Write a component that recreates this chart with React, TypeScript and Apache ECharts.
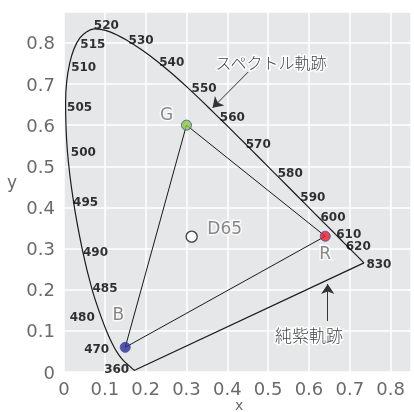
import React, { useEffect, useRef } from 'react';
import * as echarts from 'echarts';

// CIE 1931 spectral locus (wavelength nm -> chromaticity x, y)
const wavelengths = [360, 380, 400, 420, 430, 440, 445, 450, 455, 460, 465, 470, 475, 480, 485, 490, 495, 500, 505, 510, 515, 520, 525, 530, 535, 540, 545, 550, 555, 560, 565, 570, 575, 580, 585, 590, 595, 600, 605, 610, 615, 620, 625, 630, 640, 650, 660, 680, 700, 830];
const locusX = [0.1756, 0.1741, 0.1733, 0.1714, 0.1689, 0.1644, 0.1611, 0.1566, 0.1510, 0.1440, 0.1355, 0.1241, 0.1096, 0.0913, 0.0687, 0.0454, 0.0235, 0.0082, 0.0039, 0.0139, 0.0389, 0.0743, 0.1142, 0.1547, 0.1929, 0.2296, 0.2658, 0.3016, 0.3373, 0.3731, 0.4087, 0.4441, 0.4788, 0.5125, 0.5448, 0.5752, 0.6029, 0.6270, 0.6482, 0.6658, 0.6801, 0.6915, 0.7006, 0.7079, 0.7190, 0.7260, 0.7300, 0.7334, 0.7347, 0.7347];
const locusY = [0.0053, 0.0050, 0.0048, 0.0051, 0.0069, 0.0109, 0.0138, 0.0177, 0.0227, 0.0297, 0.0399, 0.0578, 0.0868, 0.1327, 0.2007, 0.2950, 0.4127, 0.5384, 0.6548, 0.7502, 0.8120, 0.8338, 0.8262, 0.8059, 0.7816, 0.7543, 0.7243, 0.6923, 0.6589, 0.6245, 0.5896, 0.5547, 0.5202, 0.4866, 0.4544, 0.4242, 0.3965, 0.3725, 0.3514, 0.3340, 0.3197, 0.3083, 0.2993, 0.2920, 0.2809, 0.2740, 0.2700, 0.2666, 0.2653, 0.2653];

// wavelengths that carry a label
const labeledWavelengths = [360, 470, 480, 485, 490, 495, 500, 505, 510, 515, 520, 530, 540, 550, 560, 570, 580, 590, 600, 610, 620, 830];

// sRGB primaries and white point
const primaryNames = ['R', 'G', 'B'];
const primaryX = [0.64, 0.30, 0.15];
const primaryY = [0.33, 0.60, 0.06];
const primaryColors = ['#ec1c2a', '#8cc63f', '#2e3192'];
const whiteName = 'D65';
const whiteX = 0.3127;
const whiteY = 0.3290;

// axis ticks
const xTicks = [0, 0.1, 0.2, 0.3, 0.4, 0.5, 0.6, 0.7, 0.8];
const yTicks = [0, 0.1, 0.2, 0.3, 0.4, 0.5, 0.6, 0.7, 0.8];

// annotation texts
const spectralLabel = 'スペクトル軌跡';
const purpleLabel = '純紫軌跡';

// layout / styling (not data)
const labelOffsets: Record<number, [number, number]> = {
  360: [-19, -1], 470: [-18, 1], 480: [-19, 0], 485: [13, -1], 490: [13, 1],
  495: [12, 0], 500: [16, 2], 505: [14, 4], 510: [14, 4], 515: [13, 6],
  520: [12, -4], 530: [14, 0], 540: [14, 0], 550: [17, 1], 560: [16, 2],
  570: [13, 0], 580: [17, 1], 590: [14, 0], 600: [13, -2], 610: [13, -1],
  620: [12, 1], 830: [15, 1],
};
const primaryLabelOffsets: [number, number][] = [[0, 17], [-20, -11], [-7, -33]];
const thinFont = 'DejaVu Sans';

function isTick(v: number, ticks: number[]) {
  return ticks.some((t) => Math.abs(t - v) < 1e-6);
}

export default function App() {
  const ref = useRef<HTMLDivElement>(null);

  useEffect(() => {
    if (!ref.current) return;
    const chart = echarts.init(ref.current, undefined, { renderer: 'svg' });

    const locusData = wavelengths.map((_, i) => [locusX[i], locusY[i]]);
    const first = 0;
    const last = wavelengths.length - 1;
    const purpleData = [
      [locusX[last], locusY[last]],
      [locusX[first], locusY[first]],
    ];
    const triangleData = [0, 1, 2, 0].map((i) => [primaryX[i], primaryY[i]]);

    const wlLabelData = labeledWavelengths.map((w) => {
      const i = wavelengths.indexOf(w);
      return {
        name: String(w),
        value: [locusX[i], locusY[i]],
        label: { offset: labelOffsets[w] },
      };
    });

    const primaryData = primaryNames.map((n, i) => ({
      name: n,
      value: [primaryX[i], primaryY[i]],
      itemStyle: { color: primaryColors[i] },
      label: { offset: primaryLabelOffsets[i] },
    }));

    const grayLabel = {
      fontFamily: thinFont,
      fontWeight: 'normal' as any,
      color: '#6a6a6a',
      textBorderColor: '#fff',
      textBorderWidth: 3,
    };

    const axisLabelStyle = {
      fontFamily: thinFont,
      fontWeight: 'normal',
      fontSize: 18,
      color: '#6a6a6a',
    };

    const option: any = {
      animation: false,
      grid: {
        left: 64,
        top: 12,
        width: 350,
        height: 360,
        show: true,
        backgroundColor: '#e6e7e9',
        borderWidth: 0,
      },
      xAxis: {
        type: 'value',
        min: 0,
        max: 0.85,
        interval: 0.1,
        axisLine: { show: false },
        axisTick: { show: false },
        splitLine: { show: true, lineStyle: { color: '#ffffff', width: 1.5 } },
        axisLabel: {
          margin: 7,
          ...axisLabelStyle,
          formatter: (v: number) => (isTick(v, xTicks) ? String(+v.toFixed(1)) : ''),
        },
      },
      yAxis: {
        type: 'value',
        min: 0,
        max: 0.875,
        interval: 0.1,
        axisLine: { show: false },
        axisTick: { show: false },
        splitLine: { show: true, lineStyle: { color: '#ffffff', width: 1.5 } },
        axisLabel: {
          margin: 9,
          ...axisLabelStyle,
          formatter: (v: number) => (isTick(v, yTicks) ? String(+v.toFixed(1)) : ''),
        },
      },
      series: [
        {
          type: 'line',
          data: locusData,
          smooth: 0.3,
          symbol: 'none',
          lineStyle: { color: '#1a1a1a', width: 1.2 },
          silent: true,
          z: 3,
        },
        {
          type: 'line',
          data: purpleData,
          symbol: 'none',
          lineStyle: { color: '#1a1a1a', width: 1.2 },
          silent: true,
          z: 3,
        },
        {
          type: 'line',
          data: triangleData,
          symbol: 'none',
          lineStyle: { color: '#1a1a1a', width: 1 },
          silent: true,
          z: 3,
        },
        {
          type: 'scatter',
          data: wlLabelData,
          symbolSize: 0,
          silent: true,
          z: 5,
          label: {
            show: true,
            position: 'inside',
            formatter: '{b}',
            fontFamily: 'DejaVu Sans',
            fontWeight: 'bold',
            fontSize: 12,
            lineHeight: 12,
            color: '#000',
          },
        },
        {
          type: 'scatter',
          data: primaryData,
          symbolSize: 10,
          silent: true,
          z: 6,
          itemStyle: { borderColor: '#3a4aa8', borderWidth: 1 },
          label: {
            show: true,
            position: 'inside',
            formatter: '{b}',
            fontSize: 17,
            ...grayLabel,
          },
        },
        {
          type: 'scatter',
          data: [{ name: whiteName, value: [whiteX, whiteY] }],
          symbolSize: 11,
          silent: true,
          z: 6,
          itemStyle: { color: '#ffffff', borderColor: '#1a1a1a', borderWidth: 1.3 },
          label: {
            show: true,
            position: 'inside',
            offset: [33, -9],
            formatter: '{b}',
            fontSize: 17,
            ...grayLabel,
          },
        },
        {
          type: 'lines',
          coordinateSystem: 'cartesian2d',
          silent: true,
          z: 7,
          symbol: ['none', 'arrow'],
          symbolSize: [6, 10],
          lineStyle: { color: '#333', width: 1, opacity: 1, curveness: 0 },
          data: [
            { coords: [[0.451, 0.729], [0.364, 0.642]] },
            { coords: [[0.646, 0.124], [0.646, 0.214]] },
          ],
        },
      ],
      graphic: [
        {
          type: 'text',
          left: 7,
          top: 173,
          style: { text: 'y', font: 'normal 17px "DejaVu Sans"', fill: '#6a6a6a' },
        },
        {
          type: 'text',
          left: 235,
          top: 398,
          style: { text: 'x', font: 'normal 14px "DejaVu Sans"', fill: '#6a6a6a' },
        },
        {
          type: 'text',
          x: 271,
          y: 62,
          z: 10,
          style: {
            text: spectralLabel,
            font: '300 16px "Noto Sans CJK JP"',
            fill: '#444',
            align: 'center',
            verticalAlign: 'middle',
            stroke: '#fff',
            lineWidth: 3,
          },
        },
        {
          type: 'text',
          x: 309,
          y: 334,
          z: 10,
          style: {
            text: purpleLabel,
            font: '300 17px "Noto Sans CJK JP"',
            fill: '#444',
            align: 'center',
            verticalAlign: 'middle',
            stroke: '#fff',
            lineWidth: 3,
          },
        },
      ],
    };

    chart.setOption(option);
    return () => chart.dispose();
  }, []);

  return (
    <div
      ref={ref}
      style={{ position: 'fixed', left: 0, top: 0, width: 414, height: 412 }}
    />
  );
}
